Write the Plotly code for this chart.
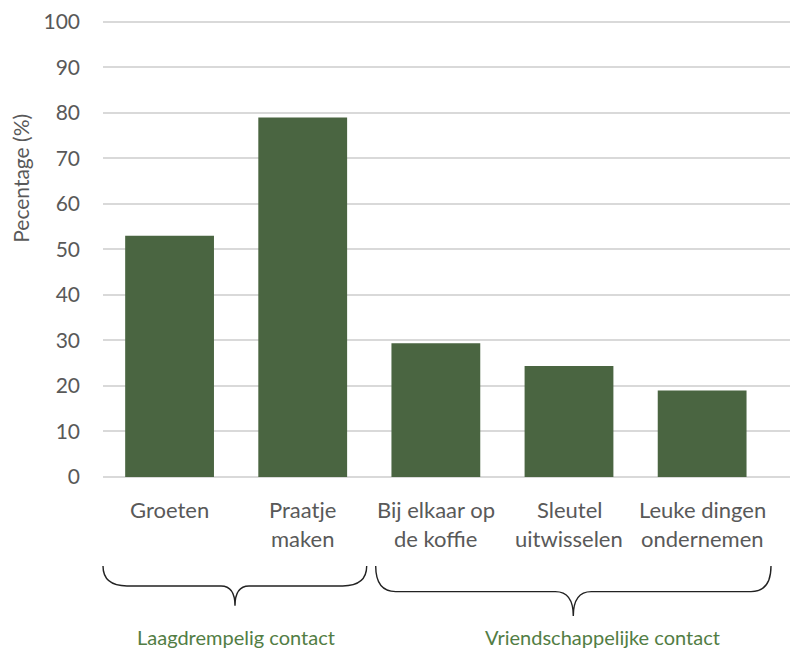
import plotly.graph_objects as go

categories = ["Groeten", "Praatje maken", "Bij elkaar op de koffie", "Sleutel uitwisselen", "Leuke dingen ondernemen"]
label_line1 = ["Groeten", "Praatje", "Bij elkaar op", "Sleutel", "Leuke dingen"]
label_line2 = ["", "maken", "de koffie", "uitwisselen", "ondernemen"]
values = [53.0, 79.0, 29.4, 24.4, 19.0]
y_ticks = [0, 10, 20, 30, 40, 50, 60, 70, 80, 90, 100]
group_labels = ["Laagdrempelig contact", "Vriendschappelijke contact"]
y_title = "Pecentage (%)"

OFF = 8  # page body margin
W, H = 798 - OFF, 653 - OFF
YMAX = 101.5
# page-pixel coordinates of plot area
L, R = 103, 798
B = 477.3
UNIT = (477.3 - 19) / 100.0
T = B - UNIT * YMAX

def px(x):
    return (x - L) / (R - L)

def py(y):
    return (B - y) / (B - T)

FONT = "Lato"
BAR = "#4a6541"
TXT = "#595959"
GREEN = "#527d44"

fig = go.Figure(go.Bar(
    x=categories, y=values,
    marker=dict(color=BAR, line=dict(width=0)),
    width=0.667,
))

annotations = []
for c, l1, l2 in zip(categories, label_line1, label_line2):
    annotations.append(dict(x=c, xref="x", y=py(510), yref="paper", text=l1,
                            showarrow=False, yanchor="middle", xanchor="center",
                            font=dict(family=FONT, size=22, color=TXT)))
    if l2:
        annotations.append(dict(x=c, xref="x", y=py(539), yref="paper", text=l2,
                                showarrow=False, yanchor="middle", xanchor="center",
                                font=dict(family=FONT, size=22, color=TXT)))

annotations.append(dict(x=px(21), y=py(177), xref="paper", yref="paper", text=y_title,
                        textangle=-90, showarrow=False, xanchor="center", yanchor="middle",
                        font=dict(family=FONT, size=21, color=TXT)))
annotations.append(dict(x=px(236), y=py(638), xref="paper", yref="paper", text=group_labels[0],
                        showarrow=False, xanchor="center", yanchor="middle",
                        font=dict(family=FONT, size=20, color=GREEN)))
annotations.append(dict(x=px(602), y=py(638), xref="paper", yref="paper", text=group_labels[1],
                        showarrow=False, xanchor="center", yanchor="middle",
                        font=dict(family=FONT, size=20, color=GREEN)))

def brace(x0, x1, xt, ytop, yh, ytip, r0, rt):
    pts = [
        f"M {px(x0)},{py(ytop)}",
        f"Q {px(x0)},{py(yh)} {px(x0 + r0)},{py(yh)}",
        f"L {px(xt - rt)},{py(yh)}",
        f"Q {px(xt)},{py(yh)} {px(xt)},{py(ytip)}",
        f"Q {px(xt)},{py(yh)} {px(xt + rt)},{py(yh)}",
        f"L {px(x1 - r0)},{py(yh)}",
        f"Q {px(x1)},{py(yh)} {px(x1)},{py(ytop)}",
    ]
    return " ".join(pts)

shapes = [
    dict(type="path", xref="paper", yref="paper",
         path=brace(103, 366.7, 235, 567, 587, 607, 24, 14),
         line=dict(color="#222222", width=1.4)),
    dict(type="path", xref="paper", yref="paper",
         path=brace(375.7, 771, 573.3, 567, 592.7, 617.3, 20, 18),
         line=dict(color="#222222", width=1.4)),
]

fig.update_layout(
    width=W, height=H,
    margin=dict(l=L - OFF, r=W - (R - OFF), t=T - OFF, b=H - (B - OFF), pad=0),
    paper_bgcolor="white", plot_bgcolor="white",
    showlegend=False,
    bargap=0.333,
    xaxis=dict(range=[-0.5, 4.72], showticklabels=False, showgrid=False,
               showline=False, zeroline=False, fixedrange=True),
    yaxis=dict(range=[0, YMAX], tickvals=y_ticks, showgrid=True, gridcolor="#d9d9d9",
               gridwidth=1.5, zeroline=True, zerolinecolor="#d9d9d9", zerolinewidth=1.5,
               showline=False, ticklabelstandoff=22, ticklabeloverflow="allow",
               tickfont=dict(family=FONT, size=21, color=TXT)),
    annotations=annotations,
    shapes=shapes,
)

fig.write_html("out.html")
